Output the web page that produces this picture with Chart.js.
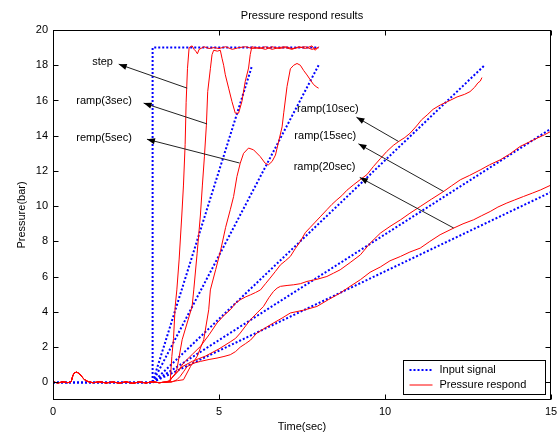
<!DOCTYPE html>
<html lang="en">
<head>
<meta charset="UTF-8">
<title>Pressure respond results</title>
<script src="https://cdn.jsdelivr.net/npm/chart.js"></script>
<style>
  html, body { margin: 0; padding: 0; background: #fff; }
  canvas { display: block; }
</style>
</head>
<body>
<canvas id="pressureChart" width="558" height="435"></canvas>
<script>
// axis ticks
const xTickVals = [0, 5, 10, 15];
const yTickVals = [0, 2, 4, 6, 8, 10, 12, 14, 16, 18, 20];

// input signals (time, bar)
const inStep   = [[0, 0], [3, 0], [3, 19], [8, 19]];
const inRamp3  = [[0, 0], [3, 0], [6, 18]];
const inRamp5  = [[3, 0], [8, 18]];
const inRamp10 = [[3, 0], [13, 18]];
const inRamp15 = [[3, 0], [15, 14.4]];
const inRamp20 = [[3, 0], [15, 10.8]];

// measured pressure, shared flat start (same for every run)
const respBase = [[0, 0.02], [0.15, -0.03], [0.3, 0.03], [0.45, -0.02], [0.55, 0.05], [0.6, 0.4], [0.65, 0.55],
  [0.72, 0.58], [0.8, 0.48], [0.88, 0.3], [0.95, 0.15], [1.05, 0.05], [1.2, -0.02], [1.4, 0.03], [1.6, -0.03],
  [1.8, 0.02], [2.0, -0.04], [2.2, 0.03], [2.4, -0.05], [2.6, 0.02], [2.8, -0.03], [3.0, 0.03], [3.2, -0.02], [3.4, 0.02]];

const respStep = [[3.45, 0.02], [3.53, 0.06], [3.58, 1.47], [3.63, 2.5], [3.68, 4.31], [3.73, 5.25], [3.8, 7.0],
  [3.88, 9.5], [3.93, 11.2], [3.98, 13.5], [4.01, 15.9], [4.05, 17.8], [4.1, 19.0], [4.19, 19.1], [4.25, 18.9],
  [4.3, 18.8], [4.35, 18.65], [4.4, 18.9], [4.55, 19.05], [4.7, 18.95], [4.85, 19.0], [5.0, 18.95], [5.2, 19.05],
  [5.4, 18.9], [5.6, 19.0], [5.8, 19.05], [6.0, 18.95], [6.2, 19.0], [6.4, 18.9], [6.6, 19.05], [6.8, 18.95],
  [7.0, 19.0], [7.2, 18.9], [7.4, 19.05], [7.6, 18.95], [7.8, 19.1], [7.9, 18.85], [8.0, 19.05]];

const respRamp3 = [[3.5, 0.05], [3.6, 0.3], [3.68, 0.5], [3.73, 0.72], [3.89, 2.42], [4.04, 3.37], [4.19, 4.31],
  [4.24, 5.25], [4.34, 7.3], [4.44, 9.5], [4.5, 11.2], [4.56, 12.8], [4.62, 14.6], [4.66, 16.5], [4.74, 17.8],
  [4.79, 18.6], [4.84, 18.85], [4.95, 18.8], [5.04, 18.85], [5.09, 18.4], [5.14, 18.0], [5.19, 17.46], [5.29, 16.7],
  [5.39, 15.94], [5.49, 15.28], [5.59, 15.28], [5.69, 15.94], [5.79, 17.08], [5.89, 17.84], [5.94, 18.6],
  [5.99, 19.05], [6.2, 18.95], [6.4, 19.05], [6.6, 18.9], [6.8, 19.0], [7.0, 19.05], [7.2, 18.95], [7.4, 19.0],
  [7.6, 19.05], [7.8, 18.9], [8.0, 19.0]];

const respRamp5 = [[3.6, 0.05], [3.75, 0.1], [3.93, 0.15], [4.14, 0.9], [4.34, 1.47], [4.54, 2.42], [4.69, 4.12],
  [4.74, 5.25], [4.9, 6.4], [5.05, 7.5], [5.2, 8.8], [5.34, 9.8], [5.44, 10.55], [5.54, 11.68], [5.64, 12.44],
  [5.74, 13.0], [5.89, 13.3], [6.04, 13.2], [6.24, 12.82], [6.39, 12.44], [6.49, 12.35], [6.6, 12.54], [6.7, 12.9],
  [6.8, 13.7], [6.9, 14.5], [6.95, 15.3], [7.05, 16.8], [7.15, 17.8], [7.25, 18.0], [7.35, 18.1], [7.45, 18.0],
  [7.55, 17.7], [7.65, 17.45], [7.75, 17.17], [7.85, 16.9], [7.95, 16.75], [8.0, 16.7]];

const respRamp10 = [[3.5, 0.1], [3.6, 0.3], [3.75, 0.6], [3.93, 1.1], [4.2, 1.6], [4.44, 2.04], [4.7, 2.7],
  [4.94, 3.37], [5.15, 3.8], [5.34, 4.12], [5.5, 4.5], [5.64, 4.69], [5.8, 4.85], [5.95, 4.97], [6.1, 5.1],
  [6.25, 5.25], [6.4, 5.6], [6.54, 5.92], [6.7, 6.3], [6.85, 6.67], [7.0, 6.9], [7.15, 7.15], [7.3, 7.6],
  [7.45, 8.0], [7.6, 8.5], [7.75, 8.8], [7.9, 9.1], [8.05, 9.4], [8.25, 9.8], [8.4, 10.1], [8.55, 10.36],
  [8.7, 10.6], [8.85, 10.9], [9.05, 11.21], [9.25, 11.5], [9.46, 11.8], [9.65, 12.25], [9.86, 12.7], [10.05, 13.1],
  [10.25, 13.45], [10.41, 13.67], [10.6, 13.9], [10.76, 14.15], [10.95, 14.55], [11.1, 14.9], [11.27, 15.18],
  [11.45, 15.5], [11.67, 15.75], [11.9, 15.95], [12.17, 16.2], [12.4, 16.35], [12.56, 16.5], [12.7, 16.75],
  [12.8, 17.0], [12.87, 17.1], [12.92, 17.3]];

const respRamp15 = [[3.5, 0.05], [3.6, 0.3], [3.75, 0.6], [3.9, 0.9], [4.2, 1.2], [4.6, 1.5], [5.0, 1.9],
  [5.34, 2.3], [5.5, 2.5], [5.64, 2.8], [5.8, 3.2], [5.95, 3.56], [6.15, 3.95], [6.34, 4.31], [6.5, 4.8],
  [6.64, 5.16], [6.75, 5.35], [6.85, 5.45], [7.05, 5.5], [7.25, 5.54], [7.45, 5.6], [7.65, 5.73], [7.95, 5.85],
  [8.25, 6.01], [8.45, 6.2], [8.65, 6.39], [8.95, 6.8], [9.26, 7.24], [9.55, 7.9], [9.86, 8.47], [10.15, 8.85],
  [10.47, 9.23], [10.75, 9.6], [11.06, 9.98], [11.4, 10.4], [11.76, 10.83], [12.0, 11.15], [12.27, 11.5],
  [12.55, 11.75], [12.87, 12.06], [13.15, 12.35], [13.47, 12.63], [13.75, 12.95], [14.07, 13.39], [14.3, 13.6],
  [14.58, 13.86], [14.8, 14.05], [15.0, 14.25]];

const respRamp20 = [[3.55, 0.0], [3.63, 0.06], [3.73, 0.15], [3.83, 0.34], [3.93, 0.6], [4.04, 0.9], [4.25, 1.1],
  [4.44, 1.19], [4.7, 1.3], [4.94, 1.38], [5.15, 1.47], [5.34, 1.57], [5.5, 1.75], [5.64, 2.0], [5.8, 2.2],
  [5.95, 2.4], [6.14, 2.8], [6.4, 3.1], [6.64, 3.37], [6.9, 3.65], [7.15, 3.94], [7.55, 4.1], [7.95, 4.31],
  [8.3, 4.7], [8.65, 5.07], [8.95, 5.45], [9.26, 5.83], [9.55, 6.25], [9.86, 6.55], [10.15, 6.9], [10.47, 7.15],
  [10.75, 7.4], [11.06, 7.62], [11.35, 8.0], [11.66, 8.38], [12.07, 8.76], [12.35, 9.0], [12.67, 9.23],
  [12.9, 9.45], [13.17, 9.7], [13.4, 9.95], [13.67, 10.18], [13.9, 10.35], [14.17, 10.55], [14.45, 10.75],
  [14.68, 10.92], [15.0, 11.2]];

// annotation labels: text, text position, arrow tail (on curve), arrow head (near text)
const noteText  = ['step', 'ramp(3sec)', 'remp(5sec)', 'ramp(10sec)', 'ramp(15sec)', 'ramp(20sec)'];
const noteAt    = [[1.18, 18.19], [0.70, 16.0], [0.70, 13.9], [7.35, 15.5], [7.27, 14.0], [7.25, 12.25]];
const noteTail  = [[4.04, 16.7], [4.64, 14.67], [5.62, 12.45], [10.41, 13.67], [11.77, 10.83], [12.07, 8.76]];
const noteHead  = [[1.98, 18.06], [2.73, 15.85], [2.83, 13.8], [9.14, 15.05], [9.2, 13.54], [9.24, 11.63]];

const legendLabels = ['Input signal', 'Pressure respond'];

const FONT = { family: '"Liberation Sans", Arial, Helvetica, sans-serif', size: 11 };
const TXT = '#000';
const BLUE = '#0000ff';
const RED = '#ff0000';

const toXY = arr => arr.map(([x, y]) => ({ x, y }));

const inputs = [inStep, inRamp3, inRamp5, inRamp10, inRamp15, inRamp20];
const responses = [respStep, respRamp3, respRamp5, respRamp10, respRamp15, respRamp20];

const datasets = [];
responses.forEach(r => datasets.push({
  data: toXY(respBase.concat(r)),
  borderColor: RED, borderWidth: 1, order: 0
}));
inputs.forEach(s => datasets.push({
  data: toXY(s),
  borderColor: BLUE, borderWidth: 2, borderDash: [2, 2], order: 1
}));

function fontStr(f) { return f.size + 'px ' + f.family; }

// MATLAB style box, inward ticks, title, notes and legend
const frame = {
  id: 'frame',
  afterDraw(chart) {
    const { ctx, chartArea: a, scales: { x, y } } = chart;
    ctx.save();

    // arrows
    ctx.strokeStyle = '#222';
    ctx.fillStyle = '#000';
    ctx.lineWidth = 1;
    noteText.forEach((t, i) => {
      const x0 = x.getPixelForValue(noteTail[i][0]), y0 = y.getPixelForValue(noteTail[i][1]);
      const x1 = x.getPixelForValue(noteHead[i][0]), y1 = y.getPixelForValue(noteHead[i][1]);
      ctx.beginPath(); ctx.moveTo(x0, y0); ctx.lineTo(x1, y1); ctx.stroke();
      const ang = Math.atan2(y1 - y0, x1 - x0);
      ctx.beginPath();
      ctx.moveTo(x1, y1);
      ctx.lineTo(x1 - 8 * Math.cos(ang) + 3 * Math.sin(ang), y1 - 8 * Math.sin(ang) - 3 * Math.cos(ang));
      ctx.lineTo(x1 - 8 * Math.cos(ang) - 3 * Math.sin(ang), y1 - 8 * Math.sin(ang) + 3 * Math.cos(ang));
      ctx.closePath(); ctx.fill();
      ctx.font = fontStr(FONT);
      ctx.textAlign = 'left'; ctx.textBaseline = 'middle';
      ctx.fillText(t, x.getPixelForValue(noteAt[i][0]), y.getPixelForValue(noteAt[i][1]));
    });

    // box
    const L = Math.round(a.left) + 0.5, R = Math.round(a.right) - 0.5;
    const T = Math.round(a.top) + 0.5, B = Math.round(a.bottom) - 0.5;
    ctx.strokeStyle = '#000';
    ctx.strokeRect(L, T, R - L, B - T);
    ctx.beginPath();
    xTickVals.forEach(v => {
      const px = Math.round(x.getPixelForValue(v)) + 0.5;
      ctx.moveTo(px, B); ctx.lineTo(px, B - 5);
      ctx.moveTo(px, T); ctx.lineTo(px, T + 5);
    });
    yTickVals.forEach(v => {
      const py = Math.round(y.getPixelForValue(v)) + 0.5;
      ctx.moveTo(L, py); ctx.lineTo(L + 5, py);
      ctx.moveTo(R, py); ctx.lineTo(R - 5, py);
    });
    ctx.stroke();

    // title
    ctx.fillStyle = TXT;
    ctx.font = fontStr(FONT);
    ctx.textAlign = 'center'; ctx.textBaseline = 'middle';
    ctx.fillText('Pressure respond results', (a.left + a.right) / 2, 15.5);

    // legend
    const lw = 142, lh = 34;
    const lx = Math.round(a.right) - 6 - lw + 0.5, ly = Math.round(a.bottom) - 6 - lh + 0.5;
    ctx.fillStyle = '#fff';
    ctx.fillRect(lx, ly, lw, lh);
    ctx.strokeStyle = '#000';
    ctx.strokeRect(lx, ly, lw, lh);
    [BLUE, RED].forEach((c, i) => {
      const ry = ly + 9.5 + i * 15;
      ctx.beginPath();
      ctx.strokeStyle = c;
      ctx.lineWidth = i === 0 ? 2 : 1;
      ctx.setLineDash(i === 0 ? [2, 2] : []);
      ctx.moveTo(lx + 6, ry); ctx.lineTo(lx + 29, ry);
      ctx.stroke();
      ctx.setLineDash([]);
      ctx.fillStyle = TXT;
      ctx.textAlign = 'left';
      ctx.fillText(legendLabels[i], lx + 36, ry);
    });
    ctx.restore();
  }
};

new Chart(document.getElementById('pressureChart').getContext('2d'), {
  type: 'scatter',
  data: { datasets },
  options: {
    responsive: false,
    animation: false,
    showLine: true,
    layout: { padding: { top: 30, right: 7, left: 0, bottom: 0 } },
    elements: { point: { radius: 0 }, line: { tension: 0 } },
    plugins: { legend: { display: false }, tooltip: { enabled: false }, title: { display: false } },
    scales: {
      x: {
        type: 'linear', min: 0, max: 15,
        afterBuildTicks: s => { s.ticks = xTickVals.map(v => ({ value: v })); },
        afterFit: s => { s.height = 35; s.paddingLeft = 0; s.paddingRight = 0; },
        grid: { display: false, drawTicks: false }, border: { display: false },
        ticks: { padding: 5, font: FONT, color: TXT, maxRotation: 0 },
        title: { display: true, text: 'Time(sec)', font: FONT, color: TXT, padding: { top: 0, bottom: 1 } }
      },
      y: {
        type: 'linear', min: -1, max: 20,
        afterBuildTicks: s => { s.ticks = yTickVals.map(v => ({ value: v })); },
        afterFit: s => { s.width = 53; s.paddingTop = 0; s.paddingBottom = 0; },
        grid: { display: false, drawTicks: false }, border: { display: false },
        ticks: { padding: 5, font: FONT, color: TXT },
        title: { display: true, text: 'Pressure(bar)', font: FONT, color: TXT, padding: { top: 15, bottom: 0 } }
      }
    }
  },
  plugins: [frame]
});
</script>
</body>
</html>
